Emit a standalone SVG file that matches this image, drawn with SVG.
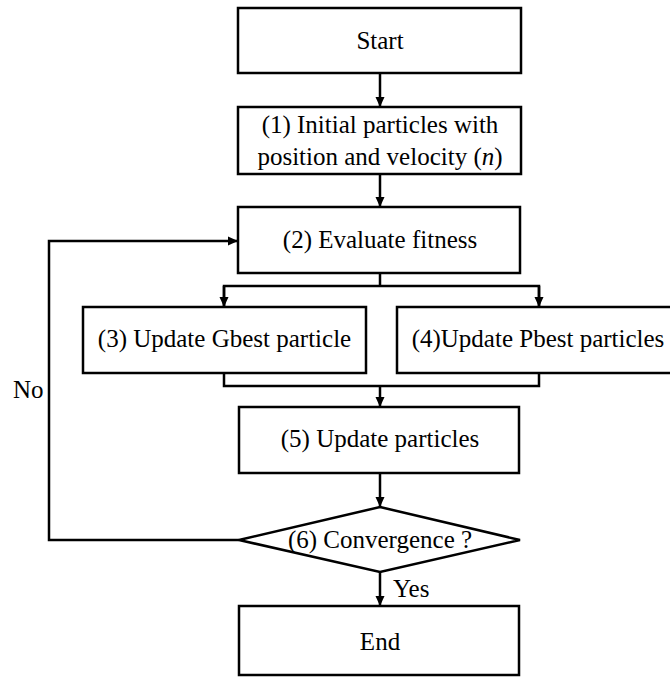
<svg xmlns="http://www.w3.org/2000/svg" width="670" height="677" viewBox="0 0 670 677">
<style>
.box{fill:#fff;stroke:#000;stroke-width:2.5}
.t{font-family:"Liberation Serif","Times New Roman",serif;font-size:25px;fill:#000;text-anchor:middle}
.l{font-family:"Liberation Serif","Times New Roman",serif;font-size:25px;fill:#000}
.c{fill:none;stroke:#000;stroke-width:2.5}
</style>
<defs>
<marker id="ah" viewBox="0 0 10 10" refX="10" refY="5" markerWidth="10" markerHeight="10" markerUnits="userSpaceOnUse" orient="auto">
<path d="M0,0.5 L10,5 L0,9.5 Z" fill="#000"/>
</marker>
</defs>
<rect width="670" height="677" fill="#fff"/>
<g id="connectors">
<line class="c" x1="380" y1="73" x2="380" y2="107" marker-end="url(#ah)"/>
<line class="c" x1="380" y1="174" x2="380" y2="207" marker-end="url(#ah)"/>
<polyline class="c" points="380,273 380,286"/>
<polyline class="c" points="224,307 224,286 539,286 539,307"/>
<line class="c" x1="224" y1="286" x2="224" y2="307" marker-end="url(#ah)"/>
<line class="c" x1="539" y1="286" x2="539" y2="307" marker-end="url(#ah)"/>
<polyline class="c" points="224,373 224,386 539,386 539,373"/>
<line class="c" x1="380" y1="386" x2="380" y2="407" marker-end="url(#ah)"/>
<line class="c" x1="380" y1="473" x2="380" y2="507" marker-end="url(#ah)"/>
<line class="c" x1="380" y1="572" x2="380" y2="606" marker-end="url(#ah)"/>
<polyline class="c" points="239,540 49,540 49,241 238,241" marker-end="url(#ah)"/>
<text class="l" x="13" y="398">No</text>
<text class="l" x="393" y="597">Yes</text>
</g>
<g id="start">
<rect class="box" x="238" y="8" width="283" height="65"/>
<text class="t" x="380" y="49">Start</text>
</g>
<g id="step1">
<rect class="box" x="238" y="107" width="283" height="67"/>
<text class="t" x="380" y="133">(1) Initial particles with</text>
<text class="t" x="380" y="165">position and velocity (<tspan font-style="italic">n</tspan>)</text>
</g>
<g id="step2">
<rect class="box" x="238" y="207" width="282" height="66"/>
<text class="t" x="380" y="248">(2) Evaluate fitness</text>
</g>
<g id="step3">
<rect class="box" x="83" y="307" width="283" height="66"/>
<text class="t" x="224.5" y="347">(3) Update Gbest particle</text>
</g>
<g id="step4">
<rect class="box" x="397" y="307" width="284" height="66"/>
<text class="t" x="538" y="347">(4)Update Pbest particles</text>
</g>
<g id="step5">
<rect class="box" x="239" y="407" width="280" height="66"/>
<text class="t" x="380" y="447">(5) Update particles</text>
</g>
<g id="step6">
<polygon class="box" points="380,507 520,540 380,572 239,540"/>
<text class="t" x="380" y="548">(6) Convergence ?</text>
</g>
<g id="end">
<rect class="box" x="239" y="606" width="280" height="69"/>
<text class="t" x="380" y="650">End</text>
</g>
</svg>
